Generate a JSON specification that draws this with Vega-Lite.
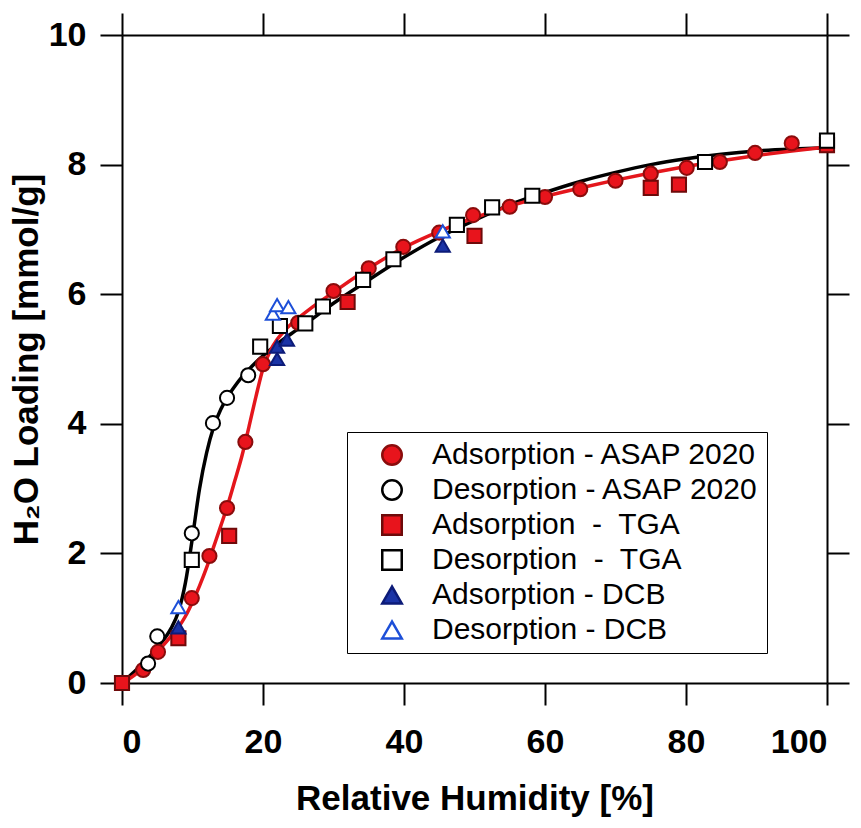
{
  "$schema": "https://vega.github.io/schema/vega-lite/v6.json",
  "width": 705,
  "height": 648,
  "autosize": {"type": "none"},
  "padding": {"left": 122, "top": 35, "right": 34, "bottom": 145},
  "background": "white",
  "config": {
    "view": {"stroke": null},
    "axis": {
      "grid": false,
      "domainColor": "black",
      "domainWidth": 2,
      "tickColor": "black",
      "tickWidth": 2,
      "tickSize": 22,
      "labelFont": "Liberation Sans",
      "labelFontWeight": "bold",
      "labelFontSize": 34,
      "labelColor": "black",
      "titleFont": "Liberation Sans",
      "titleFontWeight": "bold",
      "titleFontSize": 35,
      "titleColor": "black"
    }
  },
  "datasets": {
    "curves": [
      {"rh": 0, "loading": 0, "curve": "ads"},
      {"rh": 2, "loading": 0.14, "curve": "ads"},
      {"rh": 3, "loading": 0.24, "curve": "ads"},
      {"rh": 4, "loading": 0.36, "curve": "ads"},
      {"rh": 5, "loading": 0.48, "curve": "ads"},
      {"rh": 6, "loading": 0.6, "curve": "ads"},
      {"rh": 7, "loading": 0.73, "curve": "ads"},
      {"rh": 8, "loading": 0.86, "curve": "ads"},
      {"rh": 9, "loading": 1.03, "curve": "ads"},
      {"rh": 10, "loading": 1.25, "curve": "ads"},
      {"rh": 11, "loading": 1.5, "curve": "ads"},
      {"rh": 12, "loading": 1.78, "curve": "ads"},
      {"rh": 13, "loading": 2.1, "curve": "ads"},
      {"rh": 14, "loading": 2.42, "curve": "ads"},
      {"rh": 15, "loading": 2.75, "curve": "ads"},
      {"rh": 16, "loading": 3.12, "curve": "ads"},
      {"rh": 17, "loading": 3.5, "curve": "ads"},
      {"rh": 18, "loading": 3.95, "curve": "ads"},
      {"rh": 19, "loading": 4.42, "curve": "ads"},
      {"rh": 20, "loading": 4.85, "curve": "ads"},
      {"rh": 21, "loading": 5.12, "curve": "ads"},
      {"rh": 22, "loading": 5.3, "curve": "ads"},
      {"rh": 23, "loading": 5.43, "curve": "ads"},
      {"rh": 24, "loading": 5.54, "curve": "ads"},
      {"rh": 25, "loading": 5.63, "curve": "ads"},
      {"rh": 27, "loading": 5.8, "curve": "ads"},
      {"rh": 30, "loading": 6.03, "curve": "ads"},
      {"rh": 35, "loading": 6.4, "curve": "ads"},
      {"rh": 40, "loading": 6.72, "curve": "ads"},
      {"rh": 45, "loading": 6.97, "curve": "ads"},
      {"rh": 50, "loading": 7.18, "curve": "ads"},
      {"rh": 55, "loading": 7.36, "curve": "ads"},
      {"rh": 60, "loading": 7.51, "curve": "ads"},
      {"rh": 65, "loading": 7.64, "curve": "ads"},
      {"rh": 70, "loading": 7.76, "curve": "ads"},
      {"rh": 75, "loading": 7.87, "curve": "ads"},
      {"rh": 80, "loading": 7.97, "curve": "ads"},
      {"rh": 85, "loading": 8.06, "curve": "ads"},
      {"rh": 90, "loading": 8.14, "curve": "ads"},
      {"rh": 95, "loading": 8.21, "curve": "ads"},
      {"rh": 100, "loading": 8.27, "curve": "ads"},
      {"rh": 0, "loading": 0, "curve": "des"},
      {"rh": 2, "loading": 0.2, "curve": "des"},
      {"rh": 3, "loading": 0.3, "curve": "des"},
      {"rh": 4, "loading": 0.42, "curve": "des"},
      {"rh": 5, "loading": 0.55, "curve": "des"},
      {"rh": 6, "loading": 0.68, "curve": "des"},
      {"rh": 7, "loading": 0.85, "curve": "des"},
      {"rh": 8, "loading": 1.1, "curve": "des"},
      {"rh": 9, "loading": 1.55, "curve": "des"},
      {"rh": 10, "loading": 2.25, "curve": "des"},
      {"rh": 11, "loading": 3.0, "curve": "des"},
      {"rh": 12, "loading": 3.55, "curve": "des"},
      {"rh": 13, "loading": 3.95, "curve": "des"},
      {"rh": 14, "loading": 4.22, "curve": "des"},
      {"rh": 15, "loading": 4.42, "curve": "des"},
      {"rh": 16, "loading": 4.58, "curve": "des"},
      {"rh": 17, "loading": 4.72, "curve": "des"},
      {"rh": 18, "loading": 4.84, "curve": "des"},
      {"rh": 19, "loading": 4.95, "curve": "des"},
      {"rh": 20, "loading": 5.05, "curve": "des"},
      {"rh": 22, "loading": 5.23, "curve": "des"},
      {"rh": 24, "loading": 5.39, "curve": "des"},
      {"rh": 26, "loading": 5.54, "curve": "des"},
      {"rh": 28, "loading": 5.7, "curve": "des"},
      {"rh": 30, "loading": 5.86, "curve": "des"},
      {"rh": 35, "loading": 6.22, "curve": "des"},
      {"rh": 40, "loading": 6.57, "curve": "des"},
      {"rh": 45, "loading": 6.88, "curve": "des"},
      {"rh": 50, "loading": 7.14, "curve": "des"},
      {"rh": 55, "loading": 7.38, "curve": "des"},
      {"rh": 60, "loading": 7.57, "curve": "des"},
      {"rh": 65, "loading": 7.74, "curve": "des"},
      {"rh": 70, "loading": 7.88, "curve": "des"},
      {"rh": 75, "loading": 8.0, "curve": "des"},
      {"rh": 80, "loading": 8.09, "curve": "des"},
      {"rh": 85, "loading": 8.16, "curve": "des"},
      {"rh": 90, "loading": 8.21, "curve": "des"},
      {"rh": 95, "loading": 8.24, "curve": "des"},
      {"rh": 100, "loading": 8.26, "curve": "des"}
    ],
    "points": [
      {"rh": 0, "loading": 0, "series": "Adsorption - ASAP 2020"},
      {"rh": 3, "loading": 0.2, "series": "Adsorption - ASAP 2020"},
      {"rh": 5.1, "loading": 0.48, "series": "Adsorption - ASAP 2020"},
      {"rh": 9.9, "loading": 1.31, "series": "Adsorption - ASAP 2020"},
      {"rh": 12.4, "loading": 1.96, "series": "Adsorption - ASAP 2020"},
      {"rh": 14.9, "loading": 2.7, "series": "Adsorption - ASAP 2020"},
      {"rh": 17.5, "loading": 3.72, "series": "Adsorption - ASAP 2020"},
      {"rh": 20, "loading": 4.92, "series": "Adsorption - ASAP 2020"},
      {"rh": 25, "loading": 5.56, "series": "Adsorption - ASAP 2020"},
      {"rh": 30, "loading": 6.05, "series": "Adsorption - ASAP 2020"},
      {"rh": 35, "loading": 6.4, "series": "Adsorption - ASAP 2020"},
      {"rh": 39.9, "loading": 6.73, "series": "Adsorption - ASAP 2020"},
      {"rh": 45, "loading": 6.95, "series": "Adsorption - ASAP 2020"},
      {"rh": 49.8, "loading": 7.22, "series": "Adsorption - ASAP 2020"},
      {"rh": 55, "loading": 7.35, "series": "Adsorption - ASAP 2020"},
      {"rh": 60, "loading": 7.5, "series": "Adsorption - ASAP 2020"},
      {"rh": 65, "loading": 7.62, "series": "Adsorption - ASAP 2020"},
      {"rh": 70, "loading": 7.75, "series": "Adsorption - ASAP 2020"},
      {"rh": 75, "loading": 7.86, "series": "Adsorption - ASAP 2020"},
      {"rh": 80.1, "loading": 7.95, "series": "Adsorption - ASAP 2020"},
      {"rh": 84.8, "loading": 8.04, "series": "Adsorption - ASAP 2020"},
      {"rh": 89.8, "loading": 8.18, "series": "Adsorption - ASAP 2020"},
      {"rh": 95, "loading": 8.33, "series": "Adsorption - ASAP 2020"},
      {"rh": 100, "loading": 8.33, "series": "Adsorption - ASAP 2020"},
      {"rh": 3.7, "loading": 0.3, "series": "Desorption - ASAP 2020"},
      {"rh": 5, "loading": 0.72, "series": "Desorption - ASAP 2020"},
      {"rh": 9.9, "loading": 2.31, "series": "Desorption - ASAP 2020"},
      {"rh": 12.9, "loading": 4.01, "series": "Desorption - ASAP 2020"},
      {"rh": 14.9, "loading": 4.4, "series": "Desorption - ASAP 2020"},
      {"rh": 17.9, "loading": 4.75, "series": "Desorption - ASAP 2020"},
      {"rh": 0, "loading": 0, "series": "Adsorption \u00a0-\u00a0 TGA"},
      {"rh": 8, "loading": 0.69, "series": "Adsorption \u00a0-\u00a0 TGA"},
      {"rh": 15.2, "loading": 2.27, "series": "Adsorption \u00a0-\u00a0 TGA"},
      {"rh": 32, "loading": 5.88, "series": "Adsorption \u00a0-\u00a0 TGA"},
      {"rh": 50, "loading": 6.9, "series": "Adsorption \u00a0-\u00a0 TGA"},
      {"rh": 75, "loading": 7.64, "series": "Adsorption \u00a0-\u00a0 TGA"},
      {"rh": 79, "loading": 7.69, "series": "Adsorption \u00a0-\u00a0 TGA"},
      {"rh": 100, "loading": 8.3, "series": "Adsorption \u00a0-\u00a0 TGA"},
      {"rh": 9.9, "loading": 1.9, "series": "Desorption \u00a0-\u00a0 TGA"},
      {"rh": 19.6, "loading": 5.19, "series": "Desorption \u00a0-\u00a0 TGA"},
      {"rh": 22.4, "loading": 5.51, "series": "Desorption \u00a0-\u00a0 TGA"},
      {"rh": 26, "loading": 5.55, "series": "Desorption \u00a0-\u00a0 TGA"},
      {"rh": 28.5, "loading": 5.81, "series": "Desorption \u00a0-\u00a0 TGA"},
      {"rh": 34.2, "loading": 6.22, "series": "Desorption \u00a0-\u00a0 TGA"},
      {"rh": 38.5, "loading": 6.54, "series": "Desorption \u00a0-\u00a0 TGA"},
      {"rh": 47.5, "loading": 7.07, "series": "Desorption \u00a0-\u00a0 TGA"},
      {"rh": 52.5, "loading": 7.34, "series": "Desorption \u00a0-\u00a0 TGA"},
      {"rh": 58.2, "loading": 7.52, "series": "Desorption \u00a0-\u00a0 TGA"},
      {"rh": 82.7, "loading": 8.04, "series": "Desorption \u00a0-\u00a0 TGA"},
      {"rh": 100, "loading": 8.37, "series": "Desorption \u00a0-\u00a0 TGA"},
      {"rh": 8, "loading": 0.86, "series": "Adsorption - DCB"},
      {"rh": 22, "loading": 5.0, "series": "Adsorption - DCB"},
      {"rh": 22, "loading": 5.19, "series": "Adsorption - DCB"},
      {"rh": 23.4, "loading": 5.3, "series": "Adsorption - DCB"},
      {"rh": 45.5, "loading": 6.75, "series": "Adsorption - DCB"},
      {"rh": 8, "loading": 1.17, "series": "Desorption - DCB"},
      {"rh": 21.4, "loading": 5.7, "series": "Desorption - DCB"},
      {"rh": 22, "loading": 5.83, "series": "Desorption - DCB"},
      {"rh": 23.6, "loading": 5.8, "series": "Desorption - DCB"},
      {"rh": 45.5, "loading": 6.97, "series": "Desorption - DCB"}
    ]
  },
  "layer": [
    {
      "data": {"name": "curves"},
      "transform": [{"filter": "datum.curve === 'des'"}],
      "mark": {"type": "line", "color": "black", "strokeWidth": 3.5, "interpolate": "monotone"},
      "encoding": {
        "x": {"field": "rh", "type": "quantitative", "scale": {"domain": [0, 100], "nice": false},
              "axis": {"orient": "top", "values": [0, 20, 40, 60, 80, 100], "labels": false, "title": null}},
        "y": {"field": "loading", "type": "quantitative", "scale": {"domain": [0, 10], "nice": false},
              "axis": {"orient": "right", "values": [0, 2, 4, 6, 8, 10], "labels": false, "title": null}}
      }
    },
    {
      "data": {"name": "curves"},
      "transform": [{"filter": "datum.curve === 'ads'"}],
      "mark": {"type": "line", "color": "#e4161c", "strokeWidth": 3.5, "interpolate": "monotone"},
      "encoding": {
        "x": {"field": "rh", "type": "quantitative",
              "axis": {"orient": "bottom", "values": [0, 20, 40, 60, 80, 100], "title": "Relative Humidity [%]",
                       "labelPadding": 20, "titlePadding": 22}},
        "y": {"field": "loading", "type": "quantitative",
              "axis": {"orient": "left", "values": [0, 2, 4, 6, 8, 10], "title": "H₂O Loading [mmol/g]",
                       "labelPadding": 14, "titlePadding": 4}}
      }
    },
    {
      "data": {"name": "points"},
      "mark": {"type": "point", "filled": true, "size": 200, "strokeWidth": 2, "opacity": 1},
      "encoding": {
        "x": {"field": "rh", "type": "quantitative", "axis": null},
        "y": {"field": "loading", "type": "quantitative", "axis": null},
        "shape": {"field": "series", "type": "nominal",
                  "scale": {"domain": ["Adsorption - ASAP 2020", "Desorption - ASAP 2020", "Adsorption \u00a0-\u00a0 TGA", "Desorption \u00a0-\u00a0 TGA", "Adsorption - DCB", "Desorption - DCB"],
                            "range": ["circle", "circle", "square", "square", "triangle-up", "triangle-up"]},
                  "legend": {"title": null, "orient": "none", "legendX": 225, "legendY": 397,
                             "strokeColor": "black", "padding": 8,
                             "symbolOffset": 22, "labelOffset": 25, "symbolSize": 380, "symbolStrokeWidth": 2.5,
                             "labelFont": "Liberation Sans", "labelFontSize": 30, "labelColor": "black",
                             "rowPadding": 5, "labelLimit": 500,
                             "encode": {"legend": {"update": {"strokeWidth": {"value": 2}}}}}},
        "fill": {"field": "series", "type": "nominal",
                 "scale": {"domain": ["Adsorption - ASAP 2020", "Desorption - ASAP 2020", "Adsorption \u00a0-\u00a0 TGA", "Desorption \u00a0-\u00a0 TGA", "Adsorption - DCB", "Desorption - DCB"],
                           "range": ["#e8141c", "white", "#e8141c", "white", "#1a33a6", "white"]},
                 "legend": {"title": null, "orient": "none", "legendX": 225, "legendY": 397}},
        "stroke": {"field": "series", "type": "nominal",
                   "scale": {"domain": ["Adsorption - ASAP 2020", "Desorption - ASAP 2020", "Adsorption \u00a0-\u00a0 TGA", "Desorption \u00a0-\u00a0 TGA", "Adsorption - DCB", "Desorption - DCB"],
                             "range": ["#8a0c0c", "black", "#6e0a0a", "black", "#0c1b78", "#1d4fd8"]},
                   "legend": {"title": null, "orient": "none", "legendX": 225, "legendY": 397}}
      }
    }
  ],
  "resolve": {"axis": {"x": "independent", "y": "independent"}}
}
